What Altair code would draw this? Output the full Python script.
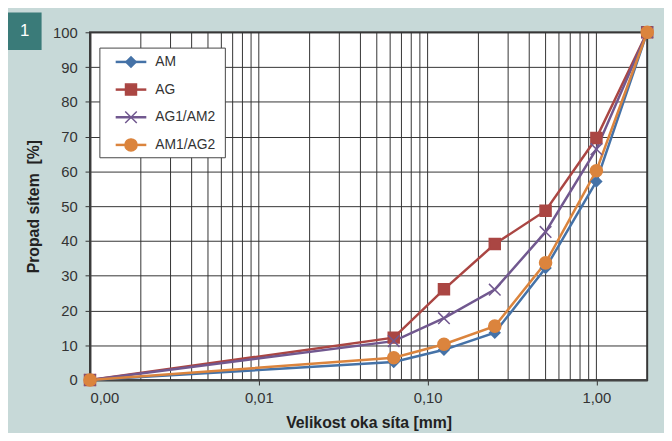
import altair as alt
import pandas as pd

# ---- data ----
sieve = [0.001, 0.063, 0.125, 0.25, 0.5, 1.0, 2.0]
series = ["AM", "AG", "AG1/AM2", "AM1/AG2"]
am = [0, 5.2, 8.7, 13.6, 32.2, 57.1, 100]
ag = [0, 12.2, 26.1, 39.1, 48.7, 69.6, 100]
ag1am2 = [0, 11.2, 17.8, 26.0, 42.6, 66.4, 100]
am1ag2 = [0, 6.4, 10.3, 15.5, 33.7, 60.2, 100]
colors = ["#4572A7", "#AA4643", "#71588F", "#DB843D"]
x_label_values = [0.001, 0.01, 0.1, 1]
y_ticks = list(range(0, 101, 10))
x_grid = [0.001, 0.002, 0.003, 0.004, 0.005, 0.006, 0.007, 0.008, 0.009,
          0.01, 0.02, 0.03, 0.04, 0.05, 0.06, 0.07, 0.08, 0.09,
          0.1, 0.2, 0.3, 0.4, 0.5, 0.6, 0.7, 0.8, 0.9, 1.0, 2.0]

rows = []
for name, vals in zip(series, [am, ag, ag1am2, am1ag2]):
    for s, v in zip(sieve, vals):
        rows.append({"series": name, "sieve": s, "pass": v})
df = pd.DataFrame(rows)
grid_df = pd.DataFrame({"g": x_grid})
leg_df = pd.DataFrame({"series": series})

FONT = "Liberation Sans"
xscale = alt.Scale(type="log", domain=[0.001, 2], nice=False)
yscale = alt.Scale(domain=[0, 100], nice=False)
fill_sc = alt.Scale(domain=series, range=colors)
xpath = "M-1,-1L1,1M-1,1L1,-1"
shape_sc = alt.Scale(domain=series, range=["diamond", "square", xpath, "circle"])
size_sc = alt.Scale(domain=series, range=[110, 150, 90, 110])

x_enc = alt.X("sieve:Q", scale=xscale, axis=alt.Axis(
    values=x_label_values,
    labelExpr="replace(format(datum.value, '.2f'), '.', ',')",
    grid=False, tickSize=5, tickColor="#333", domainColor="#444", domainWidth=2,
    labelFontSize=15, labelColor="#333", labelPadding=6, labelFont=FONT,
    title="Velikost oka síta [mm]", titleFontSize=16, titleFontWeight="bold",
    titleColor="#222", titlePadding=9, titleFont=FONT))
y_enc = alt.Y("pass:Q", scale=yscale, axis=alt.Axis(
    values=y_ticks, grid=True, gridColor="#333", gridWidth=1,
    tickSize=5, tickColor="#333", domainColor="#444", domainWidth=2,
    labelFontSize=15, labelColor="#333", labelPadding=8, labelFont=FONT,
    title="Propad sítem\u00a0 [%]", titleFontSize=16, titleFontWeight="bold",
    titleColor="#222", titlePadding=11, titleFont=FONT))

vgrid = alt.Chart(grid_df).mark_rule(color="#333", strokeWidth=1).encode(
    x=alt.X("g:Q", scale=xscale))

lines = alt.Chart(df).mark_line(strokeWidth=2.5).encode(
    x=x_enc, y=y_enc,
    stroke=alt.Stroke("series:N", scale=fill_sc, sort=series, legend=None),
    detail="series:N",
)

points = alt.Chart(df).mark_point(filled=True, opacity=1, strokeWidth=1.5).encode(
    x=alt.X("sieve:Q", scale=xscale),
    y=alt.Y("pass:Q", scale=yscale, axis=None),
    fill=alt.Fill("series:N", scale=fill_sc, legend=None),
    stroke=alt.Stroke("series:N", scale=fill_sc, legend=None),
    shape=alt.Shape("series:N", scale=shape_sc, legend=None),
    size=alt.Size("series:N", scale=size_sc, legend=None),
)

# ---- legend (drawn as layers) ----
leg_y = alt.Y("series:N", scale=alt.Scale(type="point", domain=series,
              range=[30, 114], padding=0), axis=None)
leg_box = alt.Chart(pd.DataFrame({"a": [0]})).mark_rect(
    fill="white", stroke="#444", strokeWidth=1).encode(
    x=alt.value(10), x2=alt.value(137), y=alt.value(16), y2=alt.value(127))
leg_line = alt.Chart(leg_df).mark_rule(strokeWidth=2.5).encode(
    x=alt.value(26), x2=alt.value(57), y=leg_y,
    stroke=alt.Stroke("series:N", scale=fill_sc, legend=None))
leg_pt = alt.Chart(leg_df).mark_point(filled=True, opacity=1, strokeWidth=1.5).encode(
    x=alt.value(41.5), y=leg_y,
    fill=alt.Fill("series:N", scale=fill_sc, legend=None),
    stroke=alt.Stroke("series:N", scale=fill_sc, legend=None),
    shape=alt.Shape("series:N", scale=shape_sc, legend=None),
    size=alt.Size("series:N", scale=size_sc, legend=None))
leg_txt = alt.Chart(leg_df).mark_text(align="left", baseline="middle", fontSize=14,
                                      font=FONT, color="#333").encode(
    x=alt.value(66), y=leg_y, text="series:N")

one = pd.DataFrame({"t": ["1"]})
badge = alt.Chart(one).mark_rect(color="#3a7b79", clip=False).encode(
    x=alt.value(-83), x2=alt.value(-49), y=alt.value(-20), y2=alt.value(18))
badge_txt = alt.Chart(one).mark_text(color="white", fontSize=17, font=FONT,
                                     baseline="middle", clip=False).encode(
    x=alt.value(-66), y=alt.value(-1), text="t:N")

chart = alt.layer(vgrid, lines, points, leg_box, leg_line, leg_pt, leg_txt,
                  badge, badge_txt).resolve_scale(y="independent").properties(
    width=564, height=352,
    autosize=alt.AutoSizeParams(type="none"),
    padding={"left": 83, "top": 22, "right": 17, "bottom": 51},
    background="#c7d9d8",
).configure_view(fill="white", stroke="#444", strokeWidth=2)

chart.save("out.html", embed_options={"renderer": "svg", "actions": False})
